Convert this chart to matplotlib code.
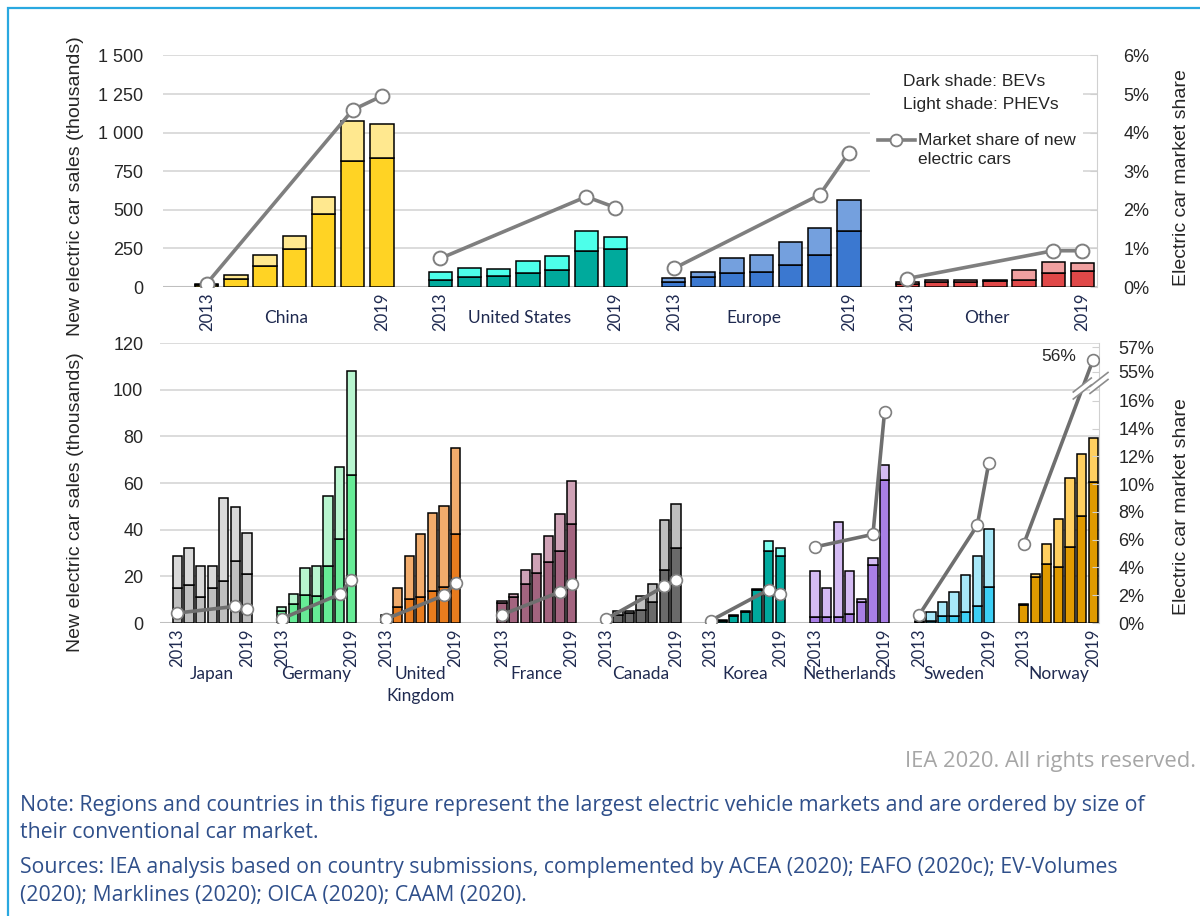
import matplotlib
matplotlib.use("Agg")
import matplotlib.pyplot as plt
import numpy as np
from matplotlib.patches import Rectangle, Polygon
from matplotlib.lines import Line2D

# ---------------- data ----------------
years = [2013, 2014, 2015, 2016, 2017, 2018, 2019]
share_years = [2013, 2018, 2019]

top_regions = ["China", "United States", "Europe", "Other"]
china_bev = [15, 52, 139, 249, 472, 818, 838]
china_phev = [6, 26, 67, 84, 110, 260, 218]
us_bev = [48, 63, 71, 91, 108, 236, 245]
us_phev = [52, 63, 46, 76, 91, 130, 82]
europe_bev = [30, 63, 89, 97, 143, 208, 364]
europe_phev = [31, 37, 101, 111, 149, 175, 201]
other_bev = [19, 32, 32, 37, 48, 89, 104]
other_phev = [13, 11, 11, 6, 62, 76, 50]
china_share = [0.09, 4.59, 4.95]
us_share = [0.74, 2.34, 2.06]
europe_share = [0.48, 2.39, 3.48]
other_share = [0.22, 0.94, 0.94]

countries = ["Japan", "Germany", "United\nKingdom", "France", "Canada", "Korea",
             "Netherlands", "Sweden", "Norway"]
japan_bev = [15.0, 16.1, 11.0, 15.0, 18.0, 26.4, 21.0]
japan_phev = [13.9, 15.9, 13.6, 9.6, 35.7, 23.2, 17.7]
germany_bev = [5.0, 8.1, 11.9, 11.4, 24.6, 36.0, 63.4]
germany_phev = [1.7, 4.5, 11.5, 13.2, 29.7, 31.0, 44.7]
uk_bev = [2.5, 6.7, 10.3, 11.0, 13.7, 15.6, 38.0]
uk_phev = [1.1, 8.3, 18.6, 27.0, 33.4, 34.5, 36.9]
france_bev = [8.6, 11.0, 16.7, 21.6, 26.0, 30.9, 42.3]
france_phev = [1.0, 1.6, 6.2, 8.0, 11.4, 15.7, 18.6]
canada_bev = [0.9, 3.4, 4.4, 5.4, 9.0, 22.6, 32.0]
canada_phev = [1.0, 1.9, 0.9, 6.0, 7.9, 21.5, 18.9]
korea_bev = [0.5, 1.0, 2.9, 4.6, 14.0, 30.9, 28.9]
korea_phev = [0.1, 0.4, 0.5, 0.7, 0.4, 4.1, 3.1]
netherlands_bev = [2.4, 2.4, 2.4, 4.0, 9.0, 24.7, 61.4]
netherlands_phev = [20.0, 12.6, 41.0, 18.4, 1.3, 3.0, 6.2]
sweden_bev = [0.4, 1.0, 3.0, 3.0, 4.7, 7.1, 15.6]
sweden_phev = [0.6, 3.6, 5.9, 10.1, 15.7, 21.8, 24.8]
norway_bev = [7.7, 19.7, 25.1, 23.9, 32.6, 45.7, 60.3]
norway_phev = [0.4, 1.3, 8.6, 20.7, 29.7, 26.9, 18.8]
japan_share = [0.72, 1.2, 0.99]
germany_share = [0.31, 2.07, 3.1]
uk_share = [0.29, 2.0, 2.9]
france_share = [0.6, 2.24, 2.84]
canada_share = [0.29, 2.64, 3.08]
korea_share = [0.17, 2.4, 2.1]
netherlands_share = [5.48, 6.39, 15.2]
sweden_share = [0.6, 7.04, 11.56]
norway_share = [5.67, np.nan, 56.0]

top_left_ticks = [0, 250, 500, 750, 1000, 1250, 1500]
top_left_labels = ["0", "250", "500", "750", "1 000", "1 250", "1 500"]
top_right_ticks = [0, 1, 2, 3, 4, 5, 6]
bot_left_ticks = [0, 20, 40, 60, 80, 100, 120]
bot_right_ticks = [0, 2, 4, 6, 8, 10, 12, 14, 16, 55, 57]

# ---------------- style ----------------
top_bev_cols = ["#FFD324", "#00AA9C", "#3B78D0", "#E04848"]
top_phev_cols = ["#FFE88F", "#4DFFEA", "#74A0DE", "#F0A0A0"]
bot_bev_cols = ["#BFBFBF", "#66EB96", "#E87C1E", "#A3647F", "#6A6A6A",
                "#00A99D", "#A97FE6", "#3CCFF5", "#E09A00"]
bot_phev_cols = ["#D9D9D9", "#B8F5CF", "#F2AC6C", "#CFA2B6", "#BFBFBF",
                 "#7FFFF0", "#D4BBF3", "#A7E8F9", "#FFCF60"]

W, H = 1200, 916
fig = plt.figure(figsize=(12, 9.16), dpi=100)
fig.patch.set_facecolor("white")

def fx(x):
    return x / W

def fy(y):
    return 1 - y / H

TICK_FONT = "Liberation Sans"
CAT_FONT = "Lato"
CAT_COL = "#1F2A50"
TXT_COL = "#262626"
GRID_COL = "#D9D9D9"
LINE_COL = "#7F7F7F"

def style_main(ax, ticks, labels, pad):
    for s in ax.spines.values():
        s.set_visible(False)
    ax.set_yticks(ticks)
    ax.set_yticklabels(labels, fontfamily=TICK_FONT, fontsize=13, color=TXT_COL)
    ax.tick_params(axis="y", length=0, pad=pad)
    ax.yaxis.grid(True, color=GRID_COL, lw=1.3)
    ax.set_axisbelow(True)

def draw_group(ax, start, bev, phev, cbev, cphev):
    xs = start + np.arange(len(years))
    bev = np.array(bev, float)
    phev = np.array(phev, float)
    ax.bar(xs, bev, width=0.8, color=cbev, edgecolor="black", lw=1.1, zorder=2)
    ax.bar(xs, phev, bottom=bev, width=0.8, color=cphev, edgecolor="black", lw=1.1, zorder=2)
    return xs

# ======================= TOP PANEL =======================
ax_t = fig.add_axes([fx(163), fy(287), (1097 - 163) / W, (287 - 55.5) / H])
top_starts = [1, 9, 17, 25]
top_bev = [china_bev, us_bev, europe_bev, other_bev]
top_phev = [china_phev, us_phev, europe_phev, other_phev]
top_share = [china_share, us_share, europe_share, other_share]
ax_t.set_xlim(-0.5, 31.5)
ax_t.set_ylim(0, 1500)
style_main(ax_t, top_left_ticks, top_left_labels, 14)
ax_t.axhline(0, color="#BFBFBF", lw=1.5, zorder=1)
ax_tr = ax_t.twinx()
ax_tr.set_ylim(0, 6)
ax_tr.set_xlim(-0.5, 31.5)
for s in ["top", "left", "bottom"]:
    ax_tr.spines[s].set_visible(False)
ax_tr.spines["right"].set_color("#D0D0D0")
ax_tr.set_yticks(top_right_ticks)
ax_tr.set_yticklabels([f"{t}%" for t in top_right_ticks], fontfamily=TICK_FONT,
                      fontsize=13, color=TXT_COL)
ax_tr.tick_params(axis="y", direction="in", length=5, color="#D0D0D0", pad=19)

xt_pos, xt_lab = [], []
for g, name in enumerate(top_regions):
    xs = draw_group(ax_t, top_starts[g], top_bev[g], top_phev[g], top_bev_cols[g], top_phev_cols[g])
    sx = [xs[years.index(y)] for y in share_years]
    ax_tr.plot(sx, top_share[g], color=LINE_COL, lw=2.6, marker="o", ms=10,
               mfc="white", mec=LINE_COL, mew=1.4, zorder=5, solid_capstyle="round")
    xt_pos += [xs[0], xs[-1]]
    xt_lab += [str(years[0]), str(years[-1])]
    ax_t.annotate(name, xy=(xs.mean() - 0.27, 0), xycoords=("data", "axes fraction"),
                  xytext=(0, -22), textcoords="offset points", ha="center", va="center",
                  fontfamily=CAT_FONT, fontsize=12.5, color=CAT_COL)
ax_t.set_xticks(xt_pos)
ax_t.set_xticklabels(xt_lab, rotation=90, fontfamily=CAT_FONT, fontsize=12, color=CAT_COL)
ax_t.tick_params(axis="x", length=0, pad=4)

# ======================= BOTTOM PANEL =======================
ax_b = fig.add_axes([fx(160), fy(623), (1099 - 160) / W, (623 - 343) / H])
gaps_before = [1, 2, 2, 3, 2, 2, 2, 2, 2]
bot_starts = []
pos = 0
for gb in gaps_before:
    pos += gb
    bot_starts.append(pos)
    pos += len(years)
nslots = pos
bot_bev = [japan_bev, germany_bev, uk_bev, france_bev, canada_bev, korea_bev,
           netherlands_bev, sweden_bev, norway_bev]
bot_phev = [japan_phev, germany_phev, uk_phev, france_phev, canada_phev, korea_phev,
            netherlands_phev, sweden_phev, norway_phev]
bot_share = [japan_share, germany_share, uk_share, france_share, canada_share,
             korea_share, netherlands_share, sweden_share, norway_share]
ax_b.set_xlim(-0.5, nslots - 0.5)
ax_b.set_ylim(0, 120)
style_main(ax_b, bot_left_ticks, [str(t) for t in bot_left_ticks], 12)
ax_b.axhline(0, color="#BFBFBF", lw=1.5, zorder=1)

# broken right axis: 0-16% linear, then 55%, 57% compressed on top
RTOP = 20.18
BREAK_LO, BREAK_HI_BASE, STEP = 16, 18.09, 0.9

def smap(v):
    v = np.asarray(v, float)
    return np.where(v <= BREAK_LO, v, BREAK_HI_BASE + (v - 55) * STEP)

ax_br = ax_b.twinx()
ax_br.set_ylim(0, RTOP)
ax_br.set_xlim(-0.5, nslots - 0.5)
for s in ["top", "left", "bottom"]:
    ax_br.spines[s].set_visible(False)
ax_br.spines["right"].set_color("#D0D0D0")
ax_br.set_yticks(smap(bot_right_ticks))
ax_br.set_yticklabels([f"{t}%" for t in bot_right_ticks], fontfamily=TICK_FONT,
                      fontsize=13, color=TXT_COL)
ax_br.tick_params(axis="y", direction="in", length=5, color="#D0D0D0", pad=14)

xb_pos, xb_lab = [], []
line_pts = {}
for g, name in enumerate(countries):
    xs = draw_group(ax_b, bot_starts[g], bot_bev[g], bot_phev[g], bot_bev_cols[g], bot_phev_cols[g])
    sx = np.array([xs[years.index(y)] for y in share_years], float)
    sv = np.array(bot_share[g], float)
    ok = np.isfinite(sv)
    ax_br.plot(sx[ok], smap(sv[ok]), color="#6F6F6F", lw=2.6, marker="o", ms=8.5,
               mfc="white", mec="#7F7F7F", mew=1.2, zorder=5)
    line_pts[name] = (sx[ok], smap(sv[ok]))
    xb_pos += [xs[0], xs[-1]]
    xb_lab += [str(years[0]), str(years[-1])]
    ax_b.annotate(name, xy=(xs.mean(), 0), xycoords=("data", "axes fraction"),
                  xytext=(0, -31), textcoords="offset points", ha="center", va="top",
                  fontfamily=CAT_FONT, fontsize=12.5, color=CAT_COL, linespacing=1.45)
ax_b.set_xticks(xb_pos)
ax_b.set_xticklabels(xb_lab, rotation=90, fontfamily=CAT_FONT, fontsize=12, color=CAT_COL)
ax_b.tick_params(axis="x", length=0, pad=4)

# 56% label
nx, ny = line_pts["Norway"]
ax_br.annotate("56%", xy=(nx[-1], ny[-1]), xytext=(-12, 2), textcoords="offset points",
               ha="right", va="center", fontfamily=TICK_FONT, fontsize=12.5, color=TXT_COL)

# break marks (drawn in figure pixel space)
def break_mark(cx, cy):
    dx, dy = 9, 7
    gap = 3.5
    pts_a = [(cx - dx, cy + dy - gap), (cx + dx, cy - dy - gap)]
    pts_b = [(cx - dx, cy + dy + gap), (cx + dx, cy - dy + gap)]
    poly = [pts_a[0], pts_a[1], pts_b[1], pts_b[0]]
    fig.add_artist(Polygon([(fx(x), fy(y)) for x, y in poly], closed=True,
                           facecolor="white", edgecolor="none", transform=fig.transFigure, zorder=3))
    for p in (pts_a, pts_b):
        fig.add_artist(Line2D([fx(p[0][0]), fx(p[1][0])], [fy(p[0][1]), fy(p[1][1])],
                              color="#8C8C8C", lw=1.2, transform=fig.transFigure, zorder=4))

ybreak = 16.9
x_cross = nx[0] + (ybreak - ny[0]) / (ny[-1] - ny[0]) * (nx[-1] - nx[0])
dxp, dyp = ax_br.transData.transform((x_cross, ybreak))
break_mark(dxp, H - dyp)
axp = ax_br.transData.transform((nslots - 0.5, 17.3))
break_mark(axp[0], H - axp[1])

# ======================= LEGEND =======================
fig.add_artist(Rectangle((fx(870), fy(190)), (1083 - 870) / W, (190 - 62) / H,
                         facecolor="white", edgecolor="none", transform=fig.transFigure, zorder=1))
fig.text(fx(903), fy(82), "Dark shade: BEVs", fontfamily=TICK_FONT, fontsize=12.5,
         color=TXT_COL, va="center", ha="left", zorder=2)
fig.text(fx(903), fy(104), "Light shade: PHEVs", fontfamily=TICK_FONT, fontsize=12.5,
         color=TXT_COL, va="center", ha="left", zorder=2)
fig.add_artist(Line2D([fx(878), fx(915)], [fy(140), fy(140)], color=LINE_COL, lw=2.6,
                      transform=fig.transFigure, zorder=2))
fig.add_artist(Line2D([fx(896)], [fy(140)], color=LINE_COL, marker="o", ms=8.5,
                      mfc="white", mec=LINE_COL, mew=1.3, transform=fig.transFigure, zorder=3))
fig.text(fx(918), fy(150), "Market share of new\nelectric cars", fontfamily=TICK_FONT,
         fontsize=12.5, color=TXT_COL, va="center", ha="left", linespacing=1.3, zorder=2)

# ======================= AXIS TITLES =======================
fig.text(fx(76), fy(186), "New electric car sales (thousands)", rotation=90, ha="center",
         va="center", fontfamily=TICK_FONT, fontsize=14, color=TXT_COL)
fig.text(fx(76), fy(502), "New electric car sales (thousands)", rotation=90, ha="center",
         va="center", fontfamily=TICK_FONT, fontsize=14, color=TXT_COL)
fig.text(fx(1181), fy(178), "Electric car market share", rotation=90, ha="center",
         va="center", fontfamily=TICK_FONT, fontsize=14, color=TXT_COL)
fig.text(fx(1181), fy(507), "Electric car market share", rotation=90, ha="center",
         va="center", fontfamily=TICK_FONT, fontsize=14, color=TXT_COL)

# ======================= FRAME & NOTES =======================
fig.add_artist(Rectangle((fx(7.5), fy(960)), 1.2, (960 - 8) / H, facecolor="none",
                         edgecolor="#29A8E0", lw=1.6, transform=fig.transFigure, zorder=0))
NOTE_FONT = "Open Sans"
NOTE_COL = "#2F4F8A"
NOTE_SIZE = 15.3
fig.text(fx(1196), fy(762), "IEA 2020. All rights reserved.", ha="right", va="center",
         fontfamily=NOTE_FONT, fontsize=15.8, color="#A6A6A6")
fig.text(fx(20), fy(805), "Note: Regions and countries in this figure represent the largest electric "
         "vehicle markets and are ordered by size of", ha="left", va="center",
         fontfamily=NOTE_FONT, fontsize=NOTE_SIZE, color=NOTE_COL)
fig.text(fx(20), fy(832), "their conventional car market.", ha="left", va="center",
         fontfamily=NOTE_FONT, fontsize=NOTE_SIZE, color=NOTE_COL)
fig.text(fx(20), fy(868), "Sources: IEA analysis based on country submissions, complemented by "
         "ACEA (2020); EAFO (2020c); EV-Volumes", ha="left", va="center",
         fontfamily=NOTE_FONT, fontsize=NOTE_SIZE, color=NOTE_COL)
fig.text(fx(20), fy(895), "(2020); Marklines (2020); OICA (2020); CAAM (2020).", ha="left",
         va="center", fontfamily=NOTE_FONT, fontsize=NOTE_SIZE, color=NOTE_COL)

fig.savefig("out.png", dpi=100, facecolor="white")
